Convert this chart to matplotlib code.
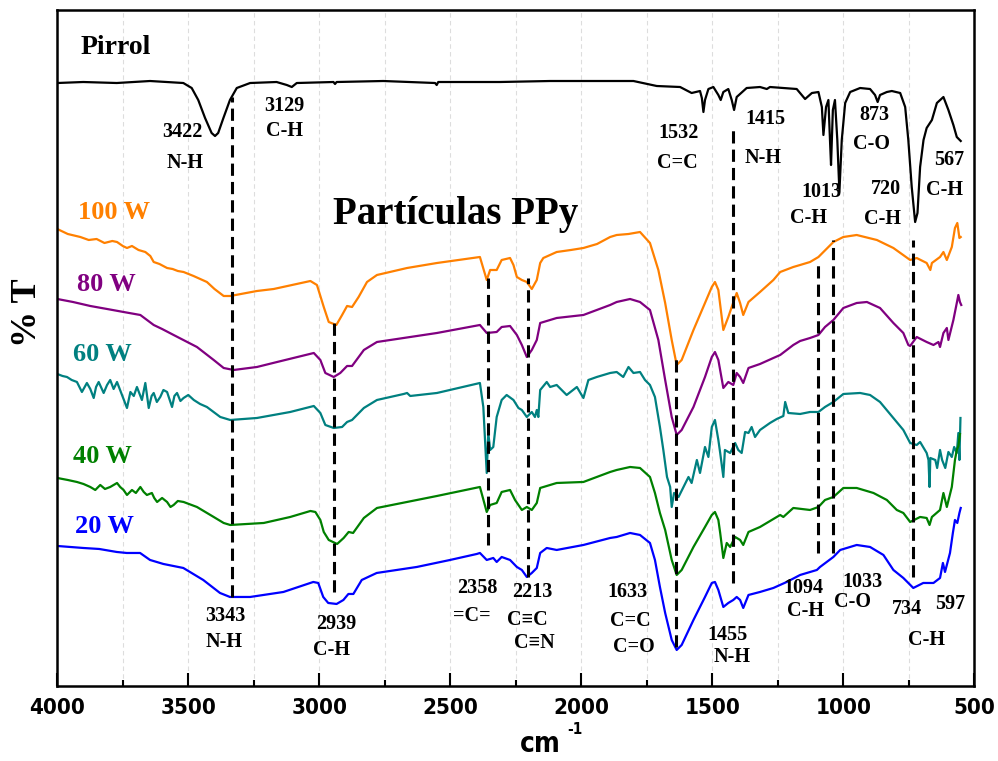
import matplotlib
matplotlib.use('Agg')
import matplotlib.pyplot as plt
from matplotlib.ticker import MultipleLocator
from matplotlib import font_manager

# FTIR spectra: wavenumber (cm-1) and transmittance (arbitrary offset units)
pirrol_wn = [4000, 3901, 3773, 3646, 3519, 3487, 3462, 3436, 3411, 3398, 3386, 3366, 3341, 3315, 3264,
             3163, 3124, 3105, 3086, 2946, 2940, 2934, 2756, 2558, 2552, 2546, 2311, 2119, 1801, 1712,
             1623, 1579, 1547, 1540, 1534, 1528, 1515, 1496, 1477, 1468, 1458, 1439, 1426, 1417, 1407,
             1369, 1318, 1292, 1280, 1178, 1146, 1120, 1095, 1082, 1076, 1066, 1057, 1051, 1047, 1040,
             1032, 1023, 1015, 1006, 993, 974, 936, 898, 879, 869, 860, 834, 815, 783, 764, 752, 739,
             726, 717, 707, 694, 682, 662, 643, 618, 599, 580, 567, 552]
pirrol_t = [603, 604, 603, 605, 603, 598, 586, 568, 553, 550, 553, 568, 586, 598, 603,
            604, 601, 599, 603, 604, 602, 604, 605, 603, 601, 604, 604, 605, 605, 600,
            599, 593, 595, 588, 574, 586, 597, 599, 591, 586, 594, 597, 586, 576, 589,
            598, 599, 597, 599, 597, 587, 593, 594, 579, 551, 579, 586, 546, 521, 576,
            586, 546, 494, 546, 583, 594, 598, 597, 591, 584, 591, 594, 595, 593, 579, 546, 499,
            464, 473, 519, 546, 558, 566, 583, 589, 576, 561, 549, 545]

w100_wn = [4000, 3960, 3912, 3880, 3850, 3820, 3790, 3772, 3750, 3734, 3715, 3690, 3664, 3645, 3632,
           3610, 3581, 3560, 3540, 3518, 3480, 3429, 3400, 3365, 3340, 3238, 3174, 3034, 3009, 2983,
           2964, 2935, 2913, 2894, 2875, 2850, 2818, 2780, 2665, 2551, 2387, 2361, 2348, 2323, 2304,
           2272, 2259, 2246, 2227, 2208, 2189, 2170, 2157, 2145, 2094, 2040, 1992, 1940, 1890, 1865,
           1820, 1776, 1738, 1706, 1680, 1655, 1636, 1617, 1572, 1528, 1502, 1490, 1477, 1458, 1439,
           1426, 1407, 1394, 1382, 1362, 1318, 1267, 1241, 1191, 1165, 1127, 1095, 1038, 1000, 949,
           872, 809, 745, 720, 682, 668, 662, 631, 618, 605, 586, 574, 565, 557, 552]
w100_t = [457, 452, 449, 446, 447, 443, 445, 444, 440, 438, 440, 436, 434, 430, 424,
          422, 418, 417, 415, 414, 410, 404, 397, 390, 390, 395, 397, 405, 401, 379,
          364, 361, 371, 380, 379, 389, 404, 411, 418, 423, 429, 406, 416, 416, 426,
          428, 421, 409, 406, 404, 397, 406, 423, 428, 434, 436, 438, 442, 449, 451,
          452, 454, 443, 416, 383, 346, 321, 326, 356, 383, 399, 404, 396, 356, 369,
          379, 393, 383, 371, 384, 394, 406, 414, 419, 421, 424, 429, 444, 449, 451,
          446, 438, 426, 428, 423, 416, 423, 429, 434, 426, 439, 458, 463, 448, 449]

w80_wn = [4000, 3940, 3874, 3810, 3747, 3683, 3632, 3600, 3556, 3467, 3403, 3365, 3327, 3238, 3161,
          3021, 2996, 2977, 2945, 2920, 2894, 2875, 2830, 2780, 2551, 2387, 2361, 2323, 2304, 2272,
          2246, 2227, 2208, 2189, 2170, 2157, 2094, 1992, 1890, 1865, 1814, 1776, 1738, 1706, 1680,
          1655, 1636, 1617, 1572, 1528, 1502, 1490, 1477, 1458, 1439, 1420, 1407, 1394, 1382, 1362,
          1318, 1267, 1241, 1191, 1165, 1127, 1095, 1070, 1038, 1000, 949, 910, 860, 809, 771,
          752, 745, 720, 682, 656, 637, 631, 618, 605, 599, 580, 567, 561, 555, 550]
w80_t = [387, 384, 380, 377, 374, 371, 361, 357, 351, 339, 326, 318, 316, 319, 324,
         333, 326, 313, 309, 313, 320, 320, 336, 344, 353, 361, 353, 354, 359, 360,
         351, 341, 329, 336, 346, 363, 368, 371, 381, 384, 387, 384, 376, 346, 306,
         269, 251, 256, 279, 309, 329, 334, 326, 298, 304, 301, 313, 309, 303, 318,
         322, 328, 331, 341, 345, 348, 351, 359, 366, 378, 383, 384, 378, 363, 353,
         341, 340, 349, 344, 341, 344, 339, 353, 358, 346, 366, 383, 391, 384, 381]

w60_wn = [4000, 3980, 3963, 3945, 3925, 3906, 3887, 3874, 3861, 3852, 3842, 3823, 3810, 3798, 3785,
          3772, 3753, 3734, 3721, 3708, 3696, 3686, 3677, 3664, 3651, 3640, 3632, 3620, 3607, 3595,
          3581, 3562, 3553, 3543, 3530, 3518, 3500, 3479, 3455, 3429, 3378, 3340, 3238, 3111, 3021,
          2996, 2977, 2945, 2913, 2894, 2875, 2830, 2780, 2678, 2665, 2653, 2551, 2387, 2374, 2361,
          2355, 2348, 2336, 2323, 2304, 2285, 2259, 2240, 2227, 2208, 2189, 2177, 2170, 2164, 2157,
          2132, 2119, 2094, 2056, 2017, 1992, 1973, 1941, 1890, 1865, 1840, 1820, 1801, 1776, 1757,
          1738, 1719, 1700, 1687, 1673, 1661, 1655, 1646, 1629, 1610, 1591, 1579, 1559, 1547, 1528,
          1515, 1502, 1490, 1477, 1470, 1458, 1452, 1432, 1413, 1401, 1388, 1375, 1362, 1350, 1337,
          1318, 1280, 1254, 1229, 1222, 1210, 1165, 1127, 1095, 1070, 1038, 1000, 936, 898, 860,
          809, 771, 745, 720, 707, 682, 675, 671, 668, 649, 642, 631, 623, 611, 599,
          586, 577, 567, 561, 557, 553]
w60_t = [312, 310, 309, 306, 304, 294, 303, 297, 288, 299, 304, 293, 301, 306, 297,
         304, 291, 278, 294, 290, 299, 292, 286, 303, 278, 290, 293, 284, 289, 296,
         294, 279, 290, 293, 285, 288, 291, 286, 282, 279, 269, 266, 268, 274, 280,
         273, 261, 258, 259, 264, 266, 278, 286, 292, 293, 290, 293, 303, 279, 213,
         253, 236, 239, 269, 286, 291, 286, 278, 276, 269, 274, 269, 276, 269, 296,
         304, 299, 301, 291, 299, 288, 306, 309, 313, 314, 309, 319, 313, 314, 306,
         301, 289, 259, 236, 209, 199, 179, 193, 189, 199, 209, 203, 226, 213, 239,
         229, 259, 266, 246, 233, 209, 236, 233, 243, 236, 233, 254, 253, 259, 249,
         256, 263, 267, 270, 284, 273, 272, 274, 274, 279, 284, 292, 293, 291, 284,
         268, 256, 243, 241, 244, 233, 226, 199, 228, 226, 218, 236, 226, 218, 234,
         229, 239, 233, 253, 226, 268]

w40_wn = [4000, 3960, 3925, 3900, 3874, 3855, 3836, 3818, 3798, 3772, 3760, 3747, 3734, 3715, 3700,
          3683, 3670, 3658, 3639, 3630, 3619, 3600, 3581, 3568, 3556, 3540, 3518, 3467, 3403, 3365,
          3340, 3212, 3111, 3034, 3015, 2996, 2983, 2964, 2932, 2907, 2888, 2871, 2830, 2780, 2551,
          2387, 2361, 2348, 2323, 2304, 2272, 2253, 2227, 2208, 2189, 2170, 2157, 2094, 1992, 1890,
          1865, 1814, 1776, 1738, 1719, 1700, 1680, 1655, 1636, 1617, 1572, 1528, 1502, 1490, 1477,
          1470, 1458, 1445, 1432, 1413, 1394, 1382, 1362, 1318, 1254, 1241, 1229, 1191, 1127, 1095,
          1070, 1038, 1000, 949, 885, 834, 796, 771, 745, 707, 682, 671, 662, 631, 618,
          605, 586, 574, 567, 561, 555]
w40_t = [208, 206, 204, 202, 199, 196, 201, 197, 199, 203, 199, 196, 191, 196, 193,
         199, 194, 191, 193, 188, 184, 188, 184, 179, 181, 185, 184, 179, 169, 163,
         161, 163, 169, 175, 174, 166, 154, 146, 142, 148, 154, 153, 168, 178, 190,
         199, 174, 181, 183, 194, 196, 186, 176, 179, 176, 183, 198, 203, 204, 214,
         216, 219, 218, 209, 193, 173, 156, 126, 111, 116, 139, 159, 171, 174, 166,
         153, 128, 143, 139, 149, 146, 141, 154, 159, 169, 171, 169, 178, 176, 179,
         186, 189, 198, 198, 193, 186, 176, 173, 164, 169, 168, 161, 169, 176, 193,
         179, 199, 226, 236, 240, 252]

w20_wn = [4000, 3901, 3840, 3773, 3735, 3684, 3646, 3595, 3519, 3443, 3379, 3341, 3264, 3137, 3023,
          3004, 2985, 2966, 2934, 2908, 2889, 2870, 2838, 2781, 2628, 2501, 2399, 2387, 2361, 2336,
          2323, 2304, 2272, 2246, 2227, 2208, 2189, 2170, 2157, 2132, 2094, 1992, 1890, 1865, 1814,
          1776, 1738, 1719, 1700, 1680, 1655, 1636, 1617, 1572, 1528, 1502, 1490, 1477, 1458, 1439,
          1420, 1407, 1394, 1382, 1362, 1318, 1267, 1216, 1165, 1101, 1089, 1038, 1012, 949, 898,
          847, 809, 771, 733, 695, 656, 631, 620, 612, 593, 582, 574, 565, 557, 552]
w20_t = [140, 138, 137, 134, 133, 133, 126, 122, 118, 106, 93, 89, 89, 94, 104,
         103, 89, 83, 82, 86, 92, 92, 106, 113, 119, 126, 132, 133, 126, 128,
         124, 129, 126, 119, 116, 109, 113, 118, 133, 138, 136, 141, 148, 149, 153,
         151, 143, 126, 99, 73, 46, 36, 41, 66, 89, 103, 104, 96, 79, 83,
         86, 89, 86, 78, 91, 94, 98, 104, 111, 116, 119, 129, 136, 141, 139,
         131, 116, 108, 98, 103, 103, 108, 123, 114, 133, 153, 166, 163, 173, 178]

series = [
    ('Pirrol', pirrol_wn, pirrol_t, 'black'),
    ('100 W', w100_wn, w100_t, '#ff8000'),
    ('80 W', w80_wn, w80_t, '#800080'),
    ('60 W', w60_wn, w60_t, '#008080'),
    ('40 W', w40_wn, w40_t, '#008000'),
    ('20 W', w20_wn, w20_t, '#0000ff'),
]

# dashed guide lines at assigned bands
mark_wn = [3335, 2944, 2357, 2205, 1640, 1420, 1098, 1038, 734]
mark_top = [589, 364, 408, 408, 329, 559, 423, 446, 446]
mark_bot = [89, 94, 141, 109, 39, 103, 133, 133, 109]

# band annotations (text, wavenumber, level)
notes = [
    ('3422', 3524, 554), ('N-H', 3512, 523), ('3129', 3135, 580), ('C-H', 3131, 555),
    ('1532', 1627, 553), ('C=C', 1635, 523), ('1415', 1299, 567), ('N-H', 1306, 528),
    ('873', 883, 571), ('C-O', 891, 542), ('567', 596, 526), ('C-H', 615, 496),
    ('1013', 1085, 494), ('C-H', 1134, 468), ('720', 837, 497), ('C-H', 849, 467),
    ('3343', 3360, 70), ('N-H', 3364, 44), ('2939', 2936, 62), ('C-H', 2955, 36),
    ('2358', 2398, 98), ('=C=', 2417, 70), ('2213', 2188, 94), ('C≡C', 2204, 66),
    ('C≡N', 2181, 43), ('1633', 1825, 94), ('C=C', 1814, 65), ('C=O', 1798, 39),
    ('1455', 1444, 51), ('N-H', 1425, 29), ('1094', 1154, 98), ('C-H', 1146, 75),
    ('1033', 928, 104), ('C-O', 966, 84), ('734', 757, 77), ('597', 593, 82),
    ('C-H', 684, 46),
]
label_pos = {'Pirrol': (3913, 639), '100 W': (3921, 473), '80 W': (3925, 401),
             '60 W': (3940, 331), '40 W': (3940, 229), '20 W': (3932, 159)}

serif = 'Liberation Serif'
# condensed bold sans for the axis numbers
narrow_prop = font_manager.FontProperties(family='DejaVu Sans', weight='bold', stretch='condensed')

fig = plt.figure(figsize=(9.98, 7.61), dpi=100)
ax = fig.add_axes([0.0574, 0.0986, 0.9189, 0.8889])

for name, wn, t, c in series:
    ax.plot(wn, t, color=c, lw=1.6, solid_joinstyle='round')
    lx, ly = label_pos[name]
    fs = 20 if name == 'Pirrol' else 19
    ax.text(lx, ly, name, color=c, fontsize=fs, fontweight='bold', family=serif,
            ha='left', va='center')

for x, top, bot in zip(mark_wn, mark_top, mark_bot):
    ax.plot([x, x], [bot, top], color='black', lw=2.2, linestyle=(0, (4, 2)))

for s, x, y in notes:
    ax.text(x, y, s, fontsize=14.5, fontweight='bold', family=serif, ha='center', va='center')

ax.text(2478, 462, 'Partículas PPy', fontsize=28, fontweight='bold', family=serif,
        ha='center', va='baseline')

ax.set_xlim(4000, 500)
ax.set_ylim(0, 676.5)
ax.xaxis.set_major_locator(MultipleLocator(500))
ax.xaxis.set_minor_locator(MultipleLocator(250))
ax.set_yticks([])
ax.grid(True, axis='x', which='both', color='#dddddd', lw=0.8, linestyle=(0, (4, 3)))
ax.set_axisbelow(True)
ax.tick_params(axis='x', which='major', direction='in', length=9.5, width=1.5, pad=9, top=False)
ax.tick_params(axis='x', which='minor', direction='in', length=4.5, width=1.5, top=False)
for lab in ax.get_xticklabels():
    lab.set_fontproperties(narrow_prop)
    lab.set_fontsize(16)
for sp in ax.spines.values():
    sp.set_linewidth(1.8)

cm_prop = narrow_prop.copy()
cm_prop.set_size(20)
sup_prop = narrow_prop.copy()
sup_prop.set_size(11)
fig.text(540 / 998, 1 - 744 / 761, 'cm', fontproperties=cm_prop, ha='center', va='center')
fig.text(575 / 998, 1 - 729 / 761, '-1', fontproperties=sup_prop, ha='center', va='center')
fig.text(27 / 998, 1 - 313 / 761, '% T', fontsize=26, fontweight='bold', family=serif,
         rotation=90, ha='center', va='center')

fig.savefig('out.png', dpi=100)
plt.close(fig)
